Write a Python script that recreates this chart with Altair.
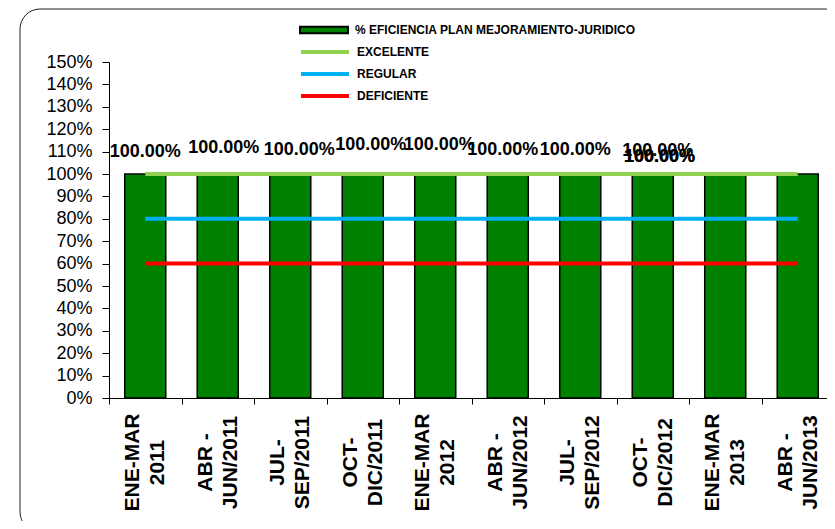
import altair as alt
import pandas as pd

# ---- data ----
periodos = [
    "ENE-MAR\n2011", "ABR -\nJUN/2011", "JUL-\nSEP/2011", "OCT-\nDIC/2011",
    "ENE-MAR\n2012", "ABR -\nJUN/2012", "JUL-\nSEP/2012", "OCT-\nDIC/2012",
    "ENE-MAR\n2013", "ABR -\nJUN/2013",
]
eficiencia = [1.00, 1.00, 1.00, 1.00, 1.00, 1.00, 1.00, 1.00, 1.00, 1.00]
excelente = [1.00, 1.00, 1.00, 1.00, 1.00, 1.00, 1.00, 1.00, 1.00, 1.00]
regular = [0.80, 0.80, 0.80, 0.80, 0.80, 0.80, 0.80, 0.80, 0.80, 0.80]
deficiente = [0.60, 0.60, 0.60, 0.60, 0.60, 0.60, 0.60, 0.60, 0.60, 0.60]

serie_barra = "% EFICIENCIA PLAN MEJORAMIENTO-JURIDICO"
series_lineas = ["EXCELENTE", "REGULAR", "DEFICIENTE"]
colores_lineas = ["#92D050", "#00B0F0", "#FF0000"]

# label placement (pixel nudges, as in the original Excel layout)
label_dx = [0, 6, 9, 8, 4, -5, -5, 5, -66, -138]
label_dy = [-22, -26, -24, -29, -29, -24, -24, -23, -17, -17]

y_ticks = [0.0, 0.1, 0.2, 0.3, 0.4, 0.5, 0.6, 0.7, 0.8, 0.9, 1.0,
           1.1, 1.2, 1.3, 1.4, 1.5]

FONT = "Liberation Sans"

bars_df = pd.DataFrame({
    "periodo": periodos,
    "valor": eficiencia,
    "serie": [serie_barra] * len(periodos),
    "idx": list(range(len(periodos))),
})
rows = []
for name, vals in zip(series_lineas, [excelente, regular, deficiente]):
    for p, v in zip(periodos, vals):
        rows.append({"periodo": p, "valor": v, "serie": name})
lines_df = pd.DataFrame(rows)

x_axis = alt.Axis(
    labelExpr="split(datum.label, '\\n')",
    labelAngle=270, labelAlign="center", labelBaseline="middle",
    labelPadding=58, labelOffset=-12.5,
    labelFont=FONT, labelFontSize=21, labelFontWeight="bold",
    labelColor="black", labelLineHeight=25, labelLimit=0, labelOverlap=False,
    tickBand="extent", tickColor="black", tickSize=6, tickWidth=1,
    domainColor="black", domainWidth=1, grid=False, title=None,
)
y_axis = alt.Axis(
    format=".0%", values=y_ticks, labelFont=FONT, labelFontSize=18,
    labelColor="black", tickColor="black", tickSize=7, tickWidth=1,
    labelPadding=10, labelOverlap=False, labelFlush=False,
    domainColor="black", domainWidth=1, grid=False, title=None,
)
x_scale = alt.Scale(paddingInner=0, paddingOuter=0, range=[0, 725])
y_scale = alt.Scale(domain=[0, 1.5], nice=False, zero=True)


def xenc():
    return alt.X("periodo:N", sort=periodos, title=None, scale=x_scale, axis=x_axis)


def yenc():
    return alt.Y("valor:Q", title=None, scale=y_scale, axis=y_axis)


border = alt.Chart(pd.DataFrame({"k": [0]})).mark_rect(
    fill="transparent", stroke="#222222", strokeWidth=1, cornerRadius=20
).encode(
    x=alt.value(-89), x2=alt.value(736), y=alt.value(-53), y2=alt.value(470)
)

bars = alt.Chart(bars_df).mark_bar(
    width=alt.RelativeBandSize(0.566), stroke="black", strokeWidth=1.5
).encode(
    x=xenc(), y=yenc(),
    fill=alt.Fill(
        "serie:N",
        scale=alt.Scale(domain=[serie_barra], range=["#008000"]),
        legend=alt.Legend(
            title=None, orient="none", legendX=208, legendY=-39, padding=0,
            symbolType="M-4,-0.55H4V0.55H-4Z", symbolSize=144,
            symbolStrokeColor="black", symbolStrokeWidth=2,
            labelFont=FONT, labelFontSize=12, labelFontWeight="bold",
            labelColor="black", labelOffset=24, labelLimit=0,
        ),
    ),
)

lines = alt.Chart(lines_df).mark_line(strokeWidth=4).encode(
    x=xenc(), y=yenc(),
    color=alt.Color(
        "serie:N", sort=series_lineas,
        scale=alt.Scale(domain=series_lineas, range=colores_lineas),
        legend=alt.Legend(
            title=None, orient="none", legendX=208, legendY=-18, padding=0,
            symbolType="M-4,0H4", symbolSize=144, symbolStrokeWidth=4,
            rowPadding=6,
            labelFont=FONT, labelFontSize=12, labelFontWeight="bold",
            labelColor="black", labelOffset=24, labelLimit=0,
        ),
    ),
)

labels = []
for i in range(len(periodos)):
    labels.append(
        alt.Chart(bars_df).transform_filter(alt.datum.idx == i).mark_text(
            dx=label_dx[i], dy=label_dy[i], font=FONT, fontSize=18,
            fontWeight="bold", color="black", align="center", baseline="middle",
        ).encode(x=xenc(), y=yenc(), text=alt.Text("valor:Q", format=".2%"))
    )

chart = alt.layer(border, bars, lines, *labels).properties(
    width=718, height=336,
    autosize=alt.AutoSizeParams(type="none"),
    padding={"left": 101, "top": 54, "right": 0, "bottom": 123},
).configure(font=FONT).configure_view(strokeWidth=0)

chart.save("out.html", embed_options={"renderer": "svg", "actions": False})
